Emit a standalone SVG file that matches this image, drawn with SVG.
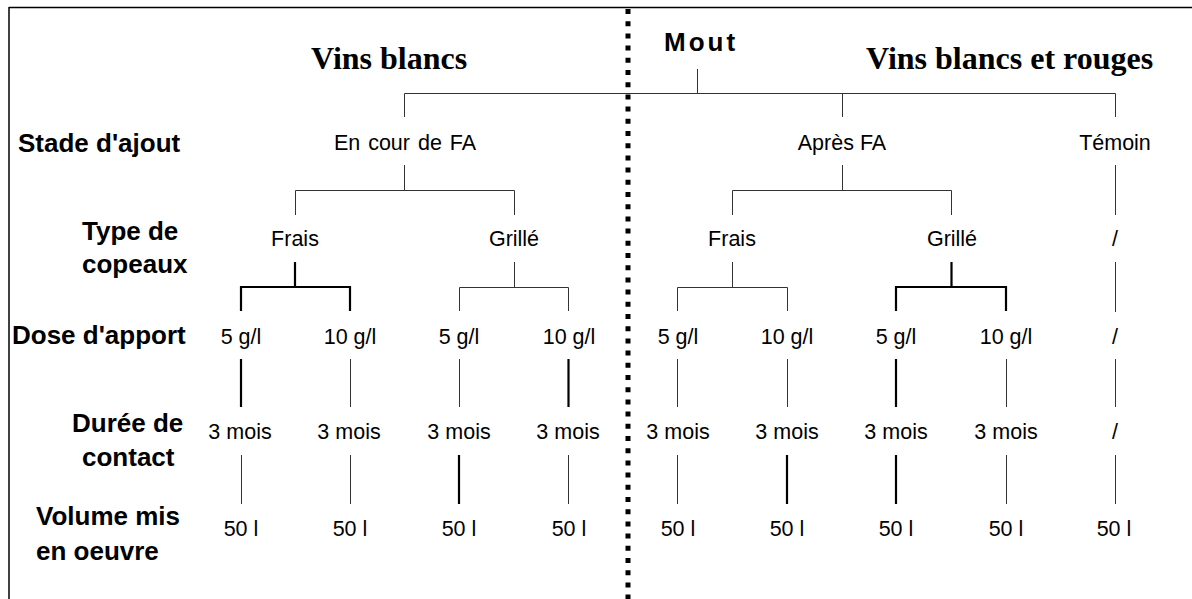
<svg xmlns="http://www.w3.org/2000/svg" width="1192" height="599" viewBox="0 0 1192 599">
<style>
.t{font-family:"Liberation Serif","Times New Roman",serif;font-weight:bold;font-size:32px;fill:#000}
.b{font-family:"Liberation Sans",Arial,sans-serif;font-weight:bold;font-size:26px;fill:#000}
.r{font-family:"Liberation Sans",Arial,sans-serif;font-size:21.5px;fill:#000;text-anchor:middle}
.th{stroke:#333;stroke-width:1;fill:none}
.tk{stroke:#000;stroke-width:2.2;fill:none}
</style>
<rect width="1192" height="599" fill="#fff"/>
<g id="frame">
<line x1="9" y1="7.5" x2="1192" y2="7.5" stroke="#000" stroke-width="1.5"/>
<line x1="9" y1="7" x2="9" y2="599" stroke="#000" stroke-width="1.5"/>
<line x1="628" y1="9" x2="628" y2="599" stroke="#000" stroke-width="5" stroke-dasharray="5 7.2"/>
</g>
<g id="titles">
<text class="t" x="311" y="69">Vins blancs</text>
<text class="t" x="866" y="69">Vins blancs et rouges</text>
<text class="b" x="664" y="51" font-size="24" letter-spacing="3">Mout</text>
</g>
<g id="row-labels">
<text class="b" x="18" y="152">Stade d'ajout</text>
<text class="b" x="82" y="240">Type de</text>
<text class="b" x="82" y="273">copeaux</text>
<text class="b" x="12" y="344">Dose d'apport</text>
<text class="b" x="72" y="432">Durée de</text>
<text class="b" x="82" y="466">contact</text>
<text class="b" x="36" y="525">Volume mis</text>
<text class="b" x="36" y="560">en oeuvre</text>
</g>
<g id="stade">
<text class="r" x="405" y="150" word-spacing="2">En cour de FA</text>
<text class="r" x="842" y="150">Après FA</text>
<text class="r" x="1115" y="150">Témoin</text>
</g>
<g id="type">
<text class="r" x="295" y="246">Frais</text>
<text class="r" x="514" y="246">Grillé</text>
<text class="r" x="732" y="246">Frais</text>
<text class="r" x="952" y="246">Grillé</text>
<text class="r" x="1115" y="246">/</text>
</g>
<g id="dose">
<text class="r" x="241" y="344">5 g/l</text>
<text class="r" x="350" y="344">10 g/l</text>
<text class="r" x="459" y="344">5 g/l</text>
<text class="r" x="569" y="344">10 g/l</text>
<text class="r" x="678" y="344">5 g/l</text>
<text class="r" x="787" y="344">10 g/l</text>
<text class="r" x="896" y="344">5 g/l</text>
<text class="r" x="1006" y="344">10 g/l</text>
<text class="r" x="1115" y="344">/</text>
</g>
<g id="duree">
<text class="r" x="240" y="439">3 mois</text>
<text class="r" x="349" y="439">3 mois</text>
<text class="r" x="459" y="439">3 mois</text>
<text class="r" x="568" y="439">3 mois</text>
<text class="r" x="678" y="439">3 mois</text>
<text class="r" x="787" y="439">3 mois</text>
<text class="r" x="896" y="439">3 mois</text>
<text class="r" x="1006" y="439">3 mois</text>
<text class="r" x="1115" y="439">/</text>
</g>
<g id="volume">
<text class="r" x="241" y="536">50 l</text>
<text class="r" x="350" y="536">50 l</text>
<text class="r" x="459" y="536">50 l</text>
<text class="r" x="569" y="536">50 l</text>
<text class="r" x="678" y="536">50 l</text>
<text class="r" x="787" y="536">50 l</text>
<text class="r" x="896" y="536">50 l</text>
<text class="r" x="1006" y="536">50 l</text>
<text class="r" x="1114" y="536">50 l</text>
</g>
<g id="connectors">
<path class="th" d="M697.5 69V93.5M404.5 117V93.5H1115.5V117M842.5 93.5V117"/>
<path class="th" d="M404.5 165V190.5M295.5 215V190.5H514.5V215"/>
<path class="th" d="M842.5 165V190.5M732.5 215V190.5H951.5V215"/>
<path class="th" d="M1115.5 165V215M1115.5 262V312M1115.5 359V407M1115.5 455V504"/>
<path class="tk" d="M295 262V287M241 311V287H350V311"/>
<path class="th" d="M514.5 262V287.5M459.5 311V287.5H568.5V311"/>
<path class="th" d="M732.5 262V287.5M677.5 311V287.5H787.5V311"/>
<path class="tk" d="M951.5 262V287M896 311V287H1006V311"/>
<path class="tk" d="M241 359V407"/>
<path class="th" d="M350.5 359V407M459.5 359V407"/>
<path class="tk" d="M568.5 359V407"/>
<path class="th" d="M677.5 359V407M787.5 359V407"/>
<path class="tk" d="M896 359V407"/>
<path class="th" d="M1006.5 359V407"/>
<path class="th" d="M241.5 455V504M350.5 455V504"/>
<path class="tk" d="M459 455V504"/>
<path class="th" d="M568.5 455V504M677.5 455V504"/>
<path class="tk" d="M787 455V504"/>
<path class="tk" d="M896 455V504"/>
<path class="th" d="M1006.5 455V504"/>
</g>
</svg>
